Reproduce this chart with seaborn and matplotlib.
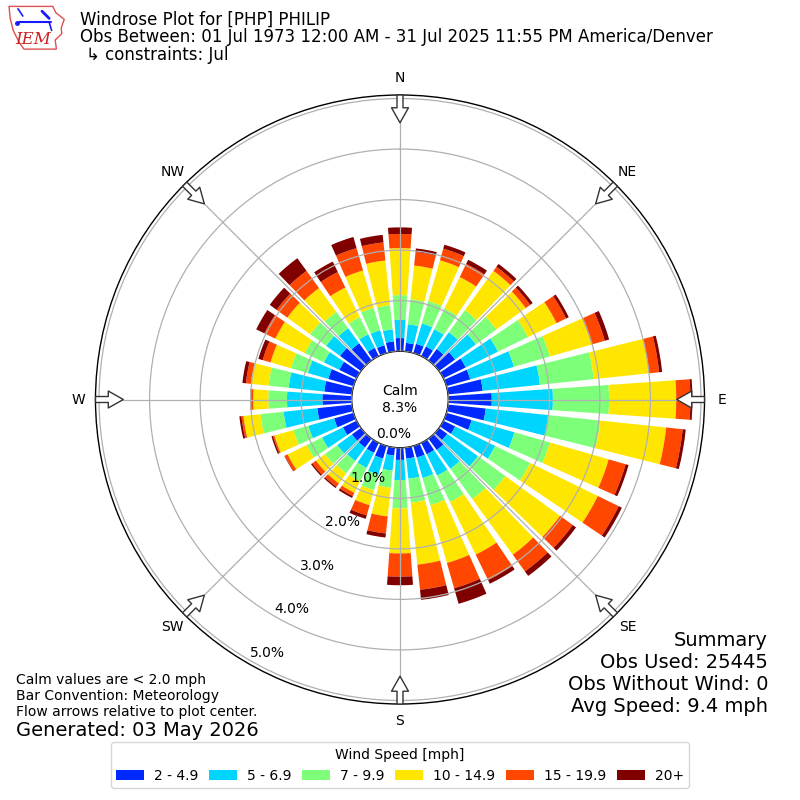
import numpy as np
import matplotlib
matplotlib.use("Agg")
import matplotlib.pyplot as plt
import seaborn as sns
from matplotlib.patches import Polygon

# ---------------- data (percent of observations) ----------------
directions = list(range(0, 360, 10))
speed_bins = ["2 - 4.9", "5 - 6.9", "7 - 9.9", "10 - 14.9", "15 - 19.9", "20+"]

pct_2_5 = [0.26, 0.17, 0.19, 0.21, 0.28, 0.39, 0.49, 0.49, 0.69, 0.86, 0.75, 0.52,
           0.26, 0.20, 0.28, 0.25, 0.24, 0.22, 0.24, 0.16, 0.26, 0.22, 0.22, 0.22,
           0.30, 0.40, 0.69, 0.58, 0.55, 0.52, 0.38, 0.51, 0.42, 0.18, 0.16, 0.20]
pct_5_7 = [0.36, 0.37, 0.42, 0.38, 0.41, 0.51, 0.71, 0.90, 1.14, 1.21, 1.24, 0.88,
           0.88, 0.75, 0.46, 0.47, 0.42, 0.40, 0.40, 0.30, 0.33, 0.33, 0.33, 0.36,
           0.46, 0.53, 0.67, 0.70, 0.71, 0.42, 0.34, 0.34, 0.37, 0.30, 0.31, 0.24]
pct_7_10 = [0.49, 0.50, 0.46, 0.46, 0.54, 0.50, 0.66, 0.74, 1.07, 1.11, 1.04, 0.73,
            0.77, 0.67, 0.74, 0.58, 0.56, 0.48, 0.56, 0.34, 0.32, 0.30, 0.30, 0.30,
            0.34, 0.31, 0.46, 0.37, 0.40, 0.35, 0.42, 0.39, 0.40, 0.38, 0.46, 0.48]
pct_10_15 = [0.93, 0.67, 0.84, 0.69, 0.96, 0.72, 0.63, 0.86, 1.10, 1.33, 1.31, 1.21,
             1.49, 1.34, 1.36, 1.16, 1.19, 1.23, 0.89, 0.57, 0.31, 0.25, 0.25, 0.22,
             0.42, 0.39, 0.34, 0.30, 0.35, 0.42, 0.65, 0.56, 0.58, 0.65, 0.77, 0.89]
pct_15_20 = [0.28, 0.27, 0.24, 0.29, 0.10, 0.11, 0.21, 0.27, 0.20, 0.28, 0.33, 0.35,
             0.46, 0.31, 0.41, 0.56, 0.52, 0.50, 0.46, 0.34, 0.21, 0.07, 0.08, 0.09,
             0.06, 0.03, 0.04, 0.05, 0.10, 0.16, 0.24, 0.26, 0.42, 0.34, 0.46, 0.36]
pct_20p = [0.13, 0.07, 0.08, 0.09, 0.07, 0.06, 0.06, 0.09, 0.06, 0.04, 0.06, 0.06,
           0.07, 0.08, 0.11, 0.08, 0.32, 0.20, 0.17, 0.08, 0.07, 0.04, 0.03, 0.03,
           0.01, 0.03, 0.04, 0.01, 0.07, 0.09, 0.18, 0.17, 0.31, 0.23, 0.23, 0.15]

ring_values = [0, 1, 2, 3, 4, 5]
ring_labels = ["0.0%", "1.0%", "2.0%", "3.0%", "4.0%", "5.0%"]
compass_angles = [0, 45, 90, 135, 180, 225, 270, 315]
compass_labels = ["N", "NE", "E", "SE", "S", "SW", "W", "NW"]
calm_pct = "8.3%"

# ---------------- style ----------------
sns.set_style("white")
plt.rcParams["font.family"] = ["DejaVu Sans"]
plt.rcParams["text.color"] = "black"
plt.rcParams["xtick.color"] = "black"
plt.rcParams["ytick.color"] = "black"
plt.rcParams["axes.labelcolor"] = "black"
jet = matplotlib.colormaps["jet"]
colors = sns.color_palette([jet(v) for v in np.linspace(0, 1, 7)[1:]])

fig = plt.figure(figsize=(8, 8), dpi=100)
fig.patch.set_facecolor("white")
ax = fig.add_axes([95.5 / 800, 96 / 800, 609 / 800, 609 / 800], projection="polar")
ax.set_theta_zero_location("N")
ax.set_theta_direction(-1)
ax.set_rorigin(-0.956)
ax.set_ylim(0, 5.07)
ax.set_axisbelow(False)

theta = np.radians(directions)
width = np.radians(8.0)
series = [pct_2_5, pct_5_7, pct_7_10, pct_10_15, pct_15_20, pct_20p]
bottom = np.zeros(len(directions))
handles = []
for vals, col in zip(series, colors):
    vals = np.asarray(vals)
    b = ax.bar(theta, vals, width=width, bottom=bottom, color=col,
               edgecolor="none", linewidth=0, align="center", zorder=1)
    handles.append(b)
    bottom = bottom + vals

ax.set_yticks(ring_values)
ax.set_yticklabels(ring_labels, fontsize=10, color="black")
ax.set_rlabel_position(210)
ax.set_xticks(np.radians(compass_angles))
ax.set_xticklabels(compass_labels, fontsize=10, color="black")
ax.tick_params(axis="x", pad=1.8)
ax.grid(True, color="#b0b0b0", linewidth=0.9)
for s in ax.spines.values():
    s.set_color("black")
    s.set_linewidth(1.0)

# direction arrows pointing toward the centre
for ang in compass_angles:
    ax.annotate("", xy=(np.radians(ang), 4.52), xytext=(np.radians(ang), 5.07),
                xycoords="data", textcoords="data", annotation_clip=False,
                arrowprops=dict(arrowstyle="simple,head_length=1.08,head_width=1.22,tail_width=0.43",
                                mutation_scale=10, fc="white", ec="#333333", lw=1.0,
                                shrinkA=0, shrinkB=0), zorder=5)

ax.text(0, -0.956, "Calm\n" + calm_pct, ha="center", va="center", fontsize=10, zorder=6)

# ---------------- header ----------------
fig.text(80 / 800, 1 - 20 / 800, "Windrose Plot for [PHP] PHILIP", fontsize=12, va="center", ha="left")
fig.text(80 / 800, 1 - 37.5 / 800,
         "Obs Between: 01 Jul 1973 12:00 AM - 31 Jul 2025 11:55 PM America/Denver",
         fontsize=12, va="center", ha="left")
fig.text(86 / 800, 1 - 55 / 800, "\u21b3 constraints: Jul", fontsize=12, va="center", ha="left")

# logo (simplified IEM mark)
lax = fig.add_axes([6 / 800, 1 - 52 / 800, 60 / 800, 48 / 800])
lax.set_xlim(0, 1)
lax.set_ylim(0, 1)
lax.axis("off")
iowa = [(0.05, 0.95), (0.78, 0.95), (0.83, 0.82), (0.97, 0.68), (0.92, 0.5), (0.93, 0.38),
        (0.82, 0.25), (0.84, 0.06), (0.3, 0.06), (0.22, 0.2), (0.12, 0.45), (0.07, 0.7)]
lax.add_patch(Polygon(iowa, closed=True, fill=False, ec="#e05050", lw=1.0))
lax.plot([0.22, 0.75], [0.62, 0.62], color="#1a1aff", lw=1.5)
lax.plot([0.2, 0.28], [0.9, 0.75], color="#1a1aff", lw=1.2)
lax.plot([0.6, 0.72], [0.85, 0.7], color="#1a1aff", lw=2.0)
lax.plot([0.72, 0.76], [0.62, 0.45], color="#1a1aff", lw=1.2)
lax.plot([0.18], [0.6], "o", color="#1a1aff", ms=2.5)
lax.text(0.45, 0.27, "IEM", color="#cc2020", fontsize=12, style="italic",
         family="DejaVu Serif", ha="center", va="center")

# ---------------- footer ----------------
fig.text(16 / 800, 1 - 680 / 800, "Calm values are < 2.0 mph", fontsize=10, va="center")
fig.text(16 / 800, 1 - 696 / 800, "Bar Convention: Meteorology", fontsize=10, va="center")
fig.text(16 / 800, 1 - 712 / 800, "Flow arrows relative to plot center.", fontsize=10, va="center")
fig.text(16 / 800, 1 - 730 / 800, "Generated: 03 May 2026", fontsize=14, va="center")

summary = ["Summary", "Obs Used: 25445", "Obs Without Wind: 0", "Avg Speed: 9.4 mph"]
for i, line in enumerate(summary):
    fig.text(768 / 800, 1 - (640 + 22 * i) / 800, line, fontsize=14, ha="right", va="center")

leg = fig.legend(handles, speed_bins, loc="lower center", bbox_to_anchor=(0.5, 5 / 800),
                 ncol=6, fontsize=10, title="Wind Speed [mph]", title_fontsize=10,
                 columnspacing=0.8, handletextpad=0.7, frameon=True)
leg.get_frame().set_edgecolor("#cccccc")
for t in leg.get_texts():
    t.set_color("black")
leg.get_title().set_color("black")

fig.savefig("out.png", dpi=100, facecolor="white")
